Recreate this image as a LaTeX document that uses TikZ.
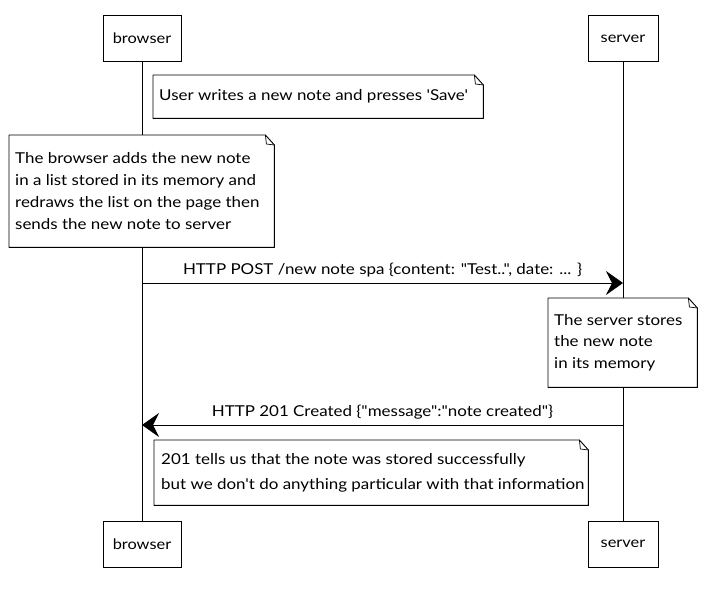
\documentclass[tikz,border=0pt]{standalone}
\usepackage{fontspec}
\setmainfont{Lato}[FakeStretch=1.13, Ligatures=TeXOff]
\usetikzlibrary{arrows.meta,backgrounds}
\begin{document}
\begin{tikzpicture}[x=1pt,y=-1pt,
  actor/.style={draw, line width=0.9pt, fill=white, minimum width=78pt,
    minimum height=46pt, inner sep=0pt, font=\fontsize{14.5}{16}\selectfont},
  lifeline/.style={line width=0.8pt},
  noteframe/.style={draw, line width=0.9pt, fill=white, line join=round},
  notearea/.style={anchor=north west, inner sep=0pt},
  notetext/.style={anchor=west, inner sep=0pt, align=left},
  fold/.style={line width=0.7pt},
  msg/.style={line width=0.9pt, -{Stealth[length=17pt, width=24pt, inset=6pt]}},
  msglabel/.style={font=\fontsize{15}{17}\selectfont, inner sep=0pt}
]
\useasboundingbox (0,0) rectangle (707,590);

% participants, top and bottom
\node[actor] (bt) at (142,38.5) {browser};
\node[actor, minimum width=70pt] (st) at (623,38.5) {server};
\node[actor] (bb) at (142,544) {browser};
\node[actor, minimum width=70pt] (sb) at (623,544) {server};

% lifelines, kept underneath the notes
\begin{scope}[on background layer]
  \draw[lifeline] (bt.south) -- (bb.north);
  \draw[lifeline] (st.south) -- (sb.north);
\end{scope}

% note areas
\node[notearea, minimum width=330pt, minimum height=43pt] (n1) at (153,75) {};
\node[notearea, minimum width=265pt, minimum height=112pt] (n2) at (9,135) {};
\node[notearea, minimum width=149pt, minimum height=89pt] (n3) at (548,298) {};
\node[notearea, minimum width=434pt, minimum height=65pt] (n4) at (154,440) {};

% folded-corner frames behind the note texts
\begin{scope}[on background layer]
\foreach \n in {n1,n2,n3,n4}{
  \draw[noteframe] (\n.north west) -- ([xshift=-9pt]\n.north east)
    -- ([yshift=-10pt]\n.north east) -- (\n.south east)
    -- (\n.south west) -- cycle;
  \draw[fold] ([xshift=-9pt]\n.north east)
    -- ([xshift=-8pt,yshift=-9pt]\n.north east)
    -- ([yshift=-10pt]\n.north east);
}
\end{scope}

% note texts
\node[notetext, font=\fontsize{15}{21}\selectfont] (t1) at ([xshift=6pt]n1.west)
  {User writes a new note and presses 'Save'};
\node[notetext, font=\fontsize{15}{22}\selectfont] (t2) at ([xshift=6pt]n2.west)
  {The browser adds the new note\\in a list stored in its memory and\\redraws the list on the page then\\sends the new note to server};
\node[notetext, font=\fontsize{15}{21.5}\selectfont] (t3) at ([xshift=6pt]n3.west)
  {The server stores\\the new note\\in its memory};
\node[notetext, font=\fontsize{15}{25}\selectfont] (t4) at ([xshift=7pt]n4.west)
  {201 tells us that the note was stored successfully\\but we don't do anything particular with that information};

% messages
\coordinate (m1a) at (bt.south |- 0,283);
\coordinate (m1b) at (st.south |- 0,283);
\coordinate (m2a) at (st.south |- 0,425);
\coordinate (m2b) at (bt.south |- 0,425);
\draw[msg] (m1a) -- (m1b)
  node[msglabel, midway, above=5pt] {HTTP POST /new note spa \{content: "Test..", date: ... \}};
\draw[msg] (m2a) -- (m2b)
  node[msglabel, midway, above=5pt] {HTTP 201 Created \{"message":"note created"\}};
\end{tikzpicture}
\end{document}
